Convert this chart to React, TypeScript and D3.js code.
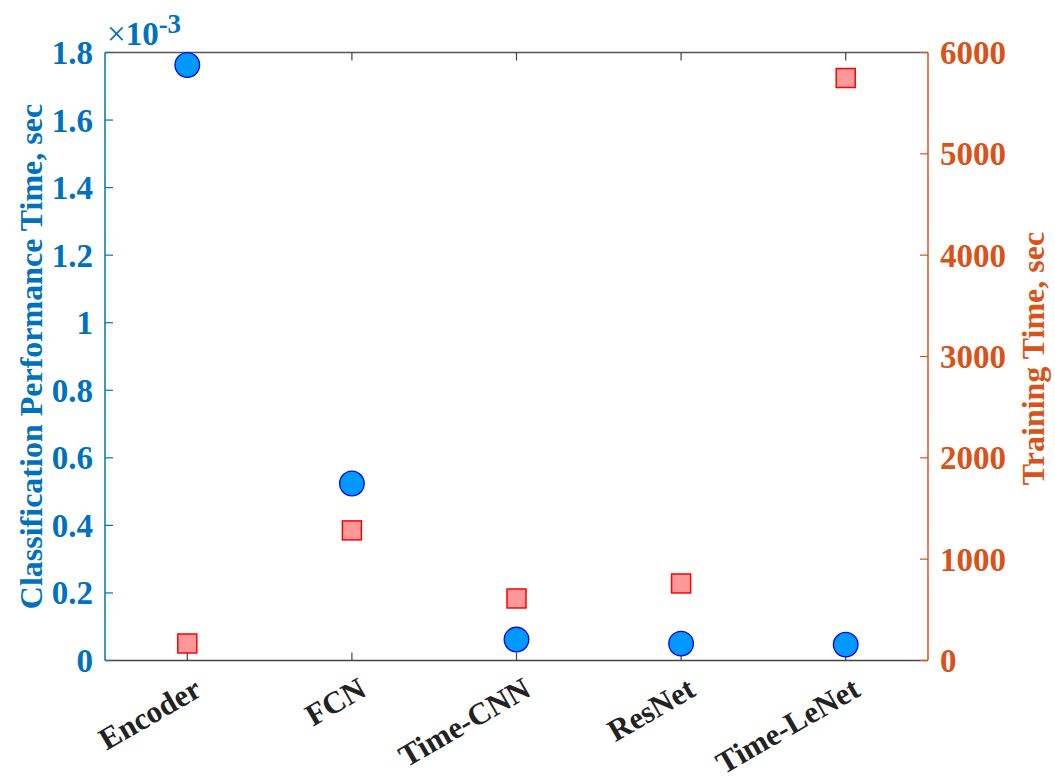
import React from 'react';
import * as d3 from 'd3';

const categories = ['Encoder', 'FCN', 'Time-CNN', 'ResNet', 'Time-LeNet'];
// classification time in units of 1e-3 sec
const classifyTime = [1.763, 0.524, 0.062, 0.05, 0.047];
// training time, sec
const trainTime = [168, 1284, 612, 760, 5748];
const leftTicks = [0, 0.2, 0.4, 0.6, 0.8, 1, 1.2, 1.4, 1.6, 1.8];
const rightTicks = [0, 1000, 2000, 3000, 4000, 5000, 6000];

const W = 1055;
const H = 783;
const m = { left: 105, right: 928, top: 52.5, bottom: 660.5 };
const BLUE = '#0072BD';
const ORANGE = '#D95319';
const FONT = '"Liberation Serif", "Times New Roman", serif';

export default function App() {
  const x = d3.scaleLinear().domain([0.5, 5.5]).range([m.left, m.right]);
  const yL = d3.scaleLinear().domain([0, 1.8]).range([m.bottom, m.top]);
  const yR = d3.scaleLinear().domain([0, 6000]).range([m.bottom, m.top]);
  const tick = 8;
  const sq = 19;

  return (
    <svg width={W} height={H} style={{ position: 'absolute', left: 0, top: 0 }} fontFamily={FONT} fontWeight="bold">
      <rect width={W} height={H} fill="#fff" />
      {/* frame */}
      <line x1={m.left} x2={m.right} y1={m.top} y2={m.top} stroke="#555" strokeWidth={1.5} />
      <line x1={m.left} x2={m.right} y1={m.bottom} y2={m.bottom} stroke="#444" strokeWidth={1.5} />
      {/* x ticks */}
      {categories.map((c, i) => (
        <g key={c}>
          <line x1={x(i + 1)} x2={x(i + 1)} y1={m.bottom} y2={m.bottom - tick} stroke="#444" strokeWidth={1.2} />
          <line x1={x(i + 1)} x2={x(i + 1)} y1={m.top} y2={m.top + tick} stroke="#444" strokeWidth={1.2} />
          <text
            transform={`translate(${x(i + 1) + 5},${m.bottom + 15}) rotate(-30)`}
            textAnchor="end"
            dominantBaseline="hanging"
            fontSize={31}
            fill="#222"
          >{c}</text>
        </g>
      ))}
      {/* left axis */}
      <line x1={m.left} x2={m.left} y1={m.top} y2={m.bottom} stroke={BLUE} strokeWidth={1.5} />
      {leftTicks.map(t => (
        <g key={t}>
          <line x1={m.left} x2={m.left + tick} y1={yL(t)} y2={yL(t)} stroke={BLUE} strokeWidth={1.2} />
          <text x={m.left - 12} y={yL(t)} dy="0.35em" textAnchor="end" fontSize={33} fill={BLUE}>{t}</text>
        </g>
      ))}
      <text x={m.left + 2} y={45} fontSize={33} fill={BLUE}>
        <tspan fontWeight="normal">×</tspan>10
        <tspan dy={-12} fontSize={27}>-3</tspan>
      </text>
      <text transform={`translate(42,${(m.top + m.bottom) / 2 + 0}) rotate(-90)`} textAnchor="middle" fontSize={32} fill={BLUE}>
        Classification Performance Time, sec
      </text>
      {/* right axis */}
      <line x1={m.right} x2={m.right} y1={m.top} y2={m.bottom} stroke={ORANGE} strokeWidth={1.5} />
      {rightTicks.map(t => (
        <g key={t}>
          <line x1={m.right} x2={m.right - tick} y1={yR(t)} y2={yR(t)} stroke={ORANGE} strokeWidth={1.2} />
          <text x={m.right + 12} y={yR(t)} dy="0.35em" textAnchor="start" fontSize={33} fill={ORANGE}>{t}</text>
        </g>
      ))}
      <text transform={`translate(1044,${(m.top + m.bottom) / 2 + 2}) rotate(-90)`} textAnchor="middle" fontSize={32} fill={ORANGE}>
        Training Time, sec
      </text>
      {/* training time squares */}
      {trainTime.map((v, i) => (
        <rect key={'s' + i} x={x(i + 1) - sq / 2} y={yR(v) - sq / 2} width={sq} height={sq}
          fill="#FF9999" stroke="#FF0000" strokeWidth={1.5} />
      ))}
      {/* classification time circles */}
      {classifyTime.map((v, i) => (
        <circle key={'c' + i} cx={x(i + 1)} cy={yL(v)} r={12.3} fill="#0099FF" stroke="#0000FF" strokeWidth={1.3} />
      ))}
    </svg>
  );
}
